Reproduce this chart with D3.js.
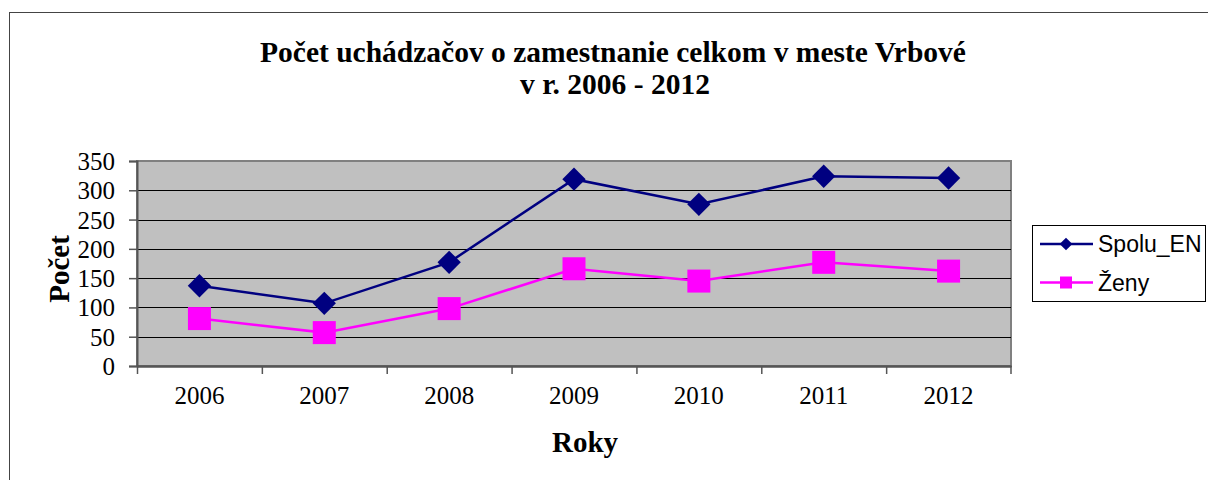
<!DOCTYPE html>
<html>
<head>
<meta charset="utf-8">
<script src="https://cdn.jsdelivr.net/npm/d3@7"></script>
<style>
  html, body { margin: 0; padding: 0; background: #fff; }
  svg { display: block; }
</style>
</head>
<body>
<div id="chart"></div>
<script>
// data
var years = ["2006", "2007", "2008", "2009", "2010", "2011", "2012"];
var spoluEN = [137, 107, 177, 319, 276, 324, 321];
var zeny = [81, 57, 98, 166, 145, 177, 162];
var yTicks = [0, 50, 100, 150, 200, 250, 300, 350];
var seriesNames = ["Spolu_EN", "Ženy"];
var seriesColors = ["#000080", "#ff00ff"];

var W = 1208, H = 480;
var plot = {left: 137, top: 161, right: 1011, bottom: 366};
var serif = "'Liberation Serif', 'Times New Roman', serif";

var svg = d3.select("#chart").append("svg")
    .attr("width", W).attr("height", H);

svg.append("rect").attr("width", W).attr("height", H).attr("fill", "#fff");
// outer chart border (runs off the right and bottom edge)
svg.append("rect")
    .attr("x", 9.5).attr("y", 12.5).attr("width", W + 10).attr("height", H + 10)
    .attr("fill", "none").attr("stroke", "#444").attr("stroke-width", 1);

var x = d3.scaleBand().domain(years).range([plot.left, plot.right]);
var y = d3.scaleLinear().domain([0, 350]).range([plot.bottom, plot.top]);

// plot area
svg.append("rect")
    .attr("x", plot.left).attr("y", plot.top)
    .attr("width", plot.right - plot.left).attr("height", plot.bottom - plot.top)
    .attr("fill", "#c0c0c0").attr("stroke", "#808080").attr("stroke-width", 2);

// gridlines
svg.append("g").selectAll("line")
    .data(yTicks.filter(function(d){ return d > 0 && d < 350; }))
    .enter().append("line")
    .attr("x1", plot.left).attr("x2", plot.right)
    .attr("y1", function(d){ return Math.round(y(d)) + 0.5; })
    .attr("y2", function(d){ return Math.round(y(d)) + 0.5; })
    .attr("stroke", "#000").attr("stroke-width", 1.2);

// y axis
var yAxis = d3.axisLeft(y).tickValues(yTicks).tickSize(8).tickPadding(14);
var gy = svg.append("g").attr("transform", "translate(" + plot.left + ",0)").call(yAxis);
gy.select(".domain").attr("stroke", "#555").attr("stroke-width", 2);
gy.selectAll(".tick line").attr("stroke", "#555").attr("stroke-width", 1.5);
gy.selectAll("text")
    .attr("x", -22).attr("dy", "0.34em")
    .attr("font-family", serif)
    .attr("font-size", 25).attr("fill", "#000");

// x axis: ticks between categories
var xAxis = d3.axisBottom(x).tickSize(0).tickPadding(18);
var gx = svg.append("g").attr("transform", "translate(0," + plot.bottom + ")").call(xAxis);
gx.select(".domain").attr("stroke", "#555").attr("stroke-width", 2.5);
gx.selectAll("text")
    .attr("y", 38).attr("dy", 0)
    .attr("font-family", serif)
    .attr("font-size", 25).attr("fill", "#000");
gx.selectAll(".bnd").data(years).enter().append("line")
    .attr("class", "bnd")
    .attr("x1", function(d){ return x(d) + 0.5; }).attr("x2", function(d){ return x(d) + 0.5; })
    .attr("y1", 0).attr("y2", 8)
    .attr("stroke", "#555").attr("stroke-width", 1.5);
gx.append("line")
    .attr("x1", plot.right).attr("x2", plot.right).attr("y1", 0).attr("y2", 8)
    .attr("stroke", "#555").attr("stroke-width", 1.5);

var cx = function(i){ return x(years[i]) + x.bandwidth() / 2; };
var line = d3.line().x(function(d, i){ return cx(i); }).y(function(d){ return y(d); });

// Spolu_EN
svg.append("path").datum(spoluEN).attr("d", line)
    .attr("fill", "none").attr("stroke", seriesColors[0]).attr("stroke-width", 2.5);
svg.append("g").selectAll("path").data(spoluEN).enter().append("path")
    .attr("d", d3.symbol().type(d3.symbolSquare).size(16.5 * 16.5))
    .attr("transform", function(d, i){ return "translate(" + cx(i) + "," + y(d) + ") rotate(45)"; })
    .attr("fill", seriesColors[0]);

// Ženy
svg.append("path").datum(zeny).attr("d", line)
    .attr("fill", "none").attr("stroke", seriesColors[1]).attr("stroke-width", 2.5);
svg.append("g").selectAll("rect").data(zeny).enter().append("rect")
    .attr("x", function(d, i){ return cx(i) - 11.5; })
    .attr("y", function(d){ return y(d) - 11.5; })
    .attr("width", 23).attr("height", 23)
    .attr("fill", seriesColors[1]);

// title
var title = svg.append("text")
    .attr("text-anchor", "middle")
    .attr("font-family", serif)
    .attr("font-weight", "bold").attr("font-size", 29.5).attr("fill", "#000");
title.append("tspan").attr("x", 613).attr("y", 62).text("Počet uchádzačov o zamestnanie celkom v meste Vrbové");
title.append("tspan").attr("x", 615).attr("y", 94).text("v r. 2006 - 2012");

// axis titles
svg.append("text")
    .attr("transform", "translate(69,269) rotate(-90)")
    .attr("text-anchor", "middle")
    .attr("font-family", serif)
    .attr("font-weight", "bold").attr("font-size", 29).attr("fill", "#000")
    .text("Počet");
svg.append("text")
    .attr("x", 585).attr("y", 452)
    .attr("text-anchor", "middle")
    .attr("font-family", serif)
    .attr("font-weight", "bold").attr("font-size", 29).attr("fill", "#000")
    .text("Roky");

// legend
var lg = svg.append("g");
lg.append("rect")
    .attr("x", 1032.5).attr("y", 225.5).attr("width", 173).attr("height", 76)
    .attr("fill", "#fff").attr("stroke", "#000").attr("stroke-width", 1);
var rows = lg.selectAll(".row").data(seriesNames).enter().append("g")
    .attr("class", "row")
    .attr("transform", function(d, i){ return "translate(0," + (244 + i * 38.5) + ")"; });
rows.append("line")
    .attr("x1", 1040).attr("x2", 1093).attr("y1", 0).attr("y2", 0)
    .attr("stroke", function(d, i){ return seriesColors[i]; }).attr("stroke-width", 2.5);
rows.filter(function(d, i){ return i === 0; }).append("path")
    .attr("d", d3.symbol().type(d3.symbolSquare).size(9 * 9))
    .attr("transform", "translate(1066,0) rotate(45)")
    .attr("fill", seriesColors[0]);
rows.filter(function(d, i){ return i === 1; }).append("rect")
    .attr("x", 1060).attr("y", -6).attr("width", 12).attr("height", 12)
    .attr("fill", seriesColors[1]);
rows.append("text")
    .attr("x", 1098).attr("y", 8)
    .attr("font-family", "'Liberation Sans', Arial, sans-serif")
    .attr("font-size", 23).attr("fill", "#000")
    .text(function(d){ return d; });
</script>
</body>
</html>
